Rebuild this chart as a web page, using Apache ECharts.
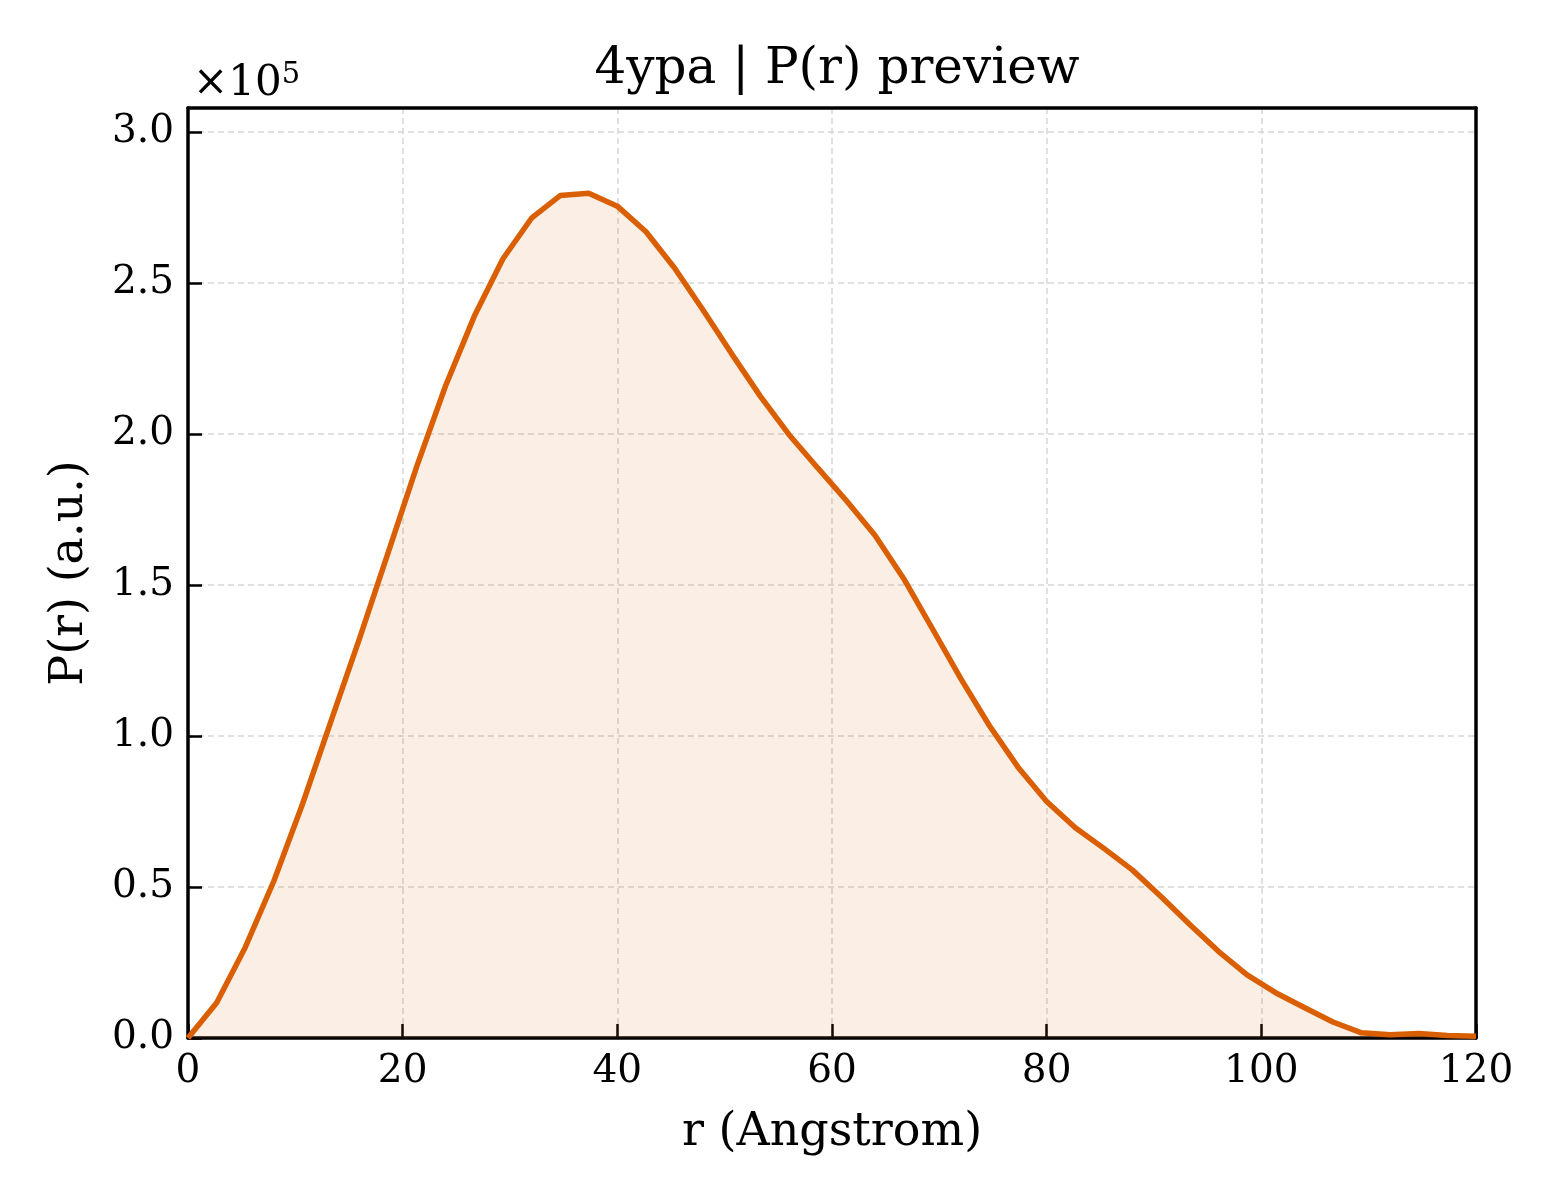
<!DOCTYPE html>
<html>
<head>
<meta charset="utf-8">
<title>4ypa | P(r) preview</title>
<script src="https://cdn.jsdelivr.net/npm/echarts@6/dist/echarts.min.js"></script>
<style>
  html, body { margin: 0; padding: 0; background: #fff; }
  #chart { width: 1560px; height: 1200px; }
</style>
</head>
<body>
<div id="chart"></div>
<script>
// 距离 r (Angstrom)
const rValues = [
  0.00, 2.67, 5.33, 8.00, 10.67, 13.33, 16.00, 18.67, 21.33, 24.00,
  26.67, 29.33, 32.00, 34.67, 37.33, 40.00, 42.67, 45.33, 48.00, 50.67,
  53.33, 56.00, 58.67, 61.33, 64.00, 66.67, 69.33, 72.00, 74.67, 77.33,
  80.00, 82.67, 85.33, 88.00, 90.67, 93.33, 96.00, 98.67, 101.33, 104.00,
  106.67, 109.33, 112.00, 114.67, 117.33, 120.00
];

// P(r) (a.u.)
const prValues = [
  0, 11700, 30000, 52000, 77500, 105000, 132500, 161000, 189500, 216000,
  239000, 258000, 271500, 279000, 279800, 275500, 267000, 255000, 241000, 226500,
  212500, 199800, 188800, 178000, 166500, 152200, 135700, 119000, 103400, 89700,
  78300, 69600, 62800, 55600, 46800, 37600, 28700, 20900, 15000, 10100,
  5300, 1700, 1100, 1500, 800, 600
];

const xTicks = { min: 0, max: 120, interval: 20 };
const yTicks = { min: 0, max: 308000, interval: 50000 };

const FONT = 'DejaVu Serif';
const lineColor = '#d95f02';

const chart = echarts.init(document.getElementById('chart'), null, { renderer: 'canvas' });

const frameLine = { show: true, onZero: false, lineStyle: { color: '#000', width: 3.5 } };
const axisCommon = {
  axisLine: frameLine,
  axisTick: { show: true, inside: true, length: 14, lineStyle: { color: '#000', width: 2.5 } },
  splitLine: { show: true, lineStyle: { color: '#d6d6d6', width: 1.5, type: [6, 4] } },
  nameTextStyle: { fontFamily: FONT, fontSize: 46, color: '#000' }
};
// 上、右两侧只画边框线
const frameOnly = {
  axisLine: frameLine,
  axisTick: { show: false }, axisLabel: { show: false }, splitLine: { show: false }
};

chart.setOption({
  backgroundColor: '#fff',
  animation: false,
  title: [
    {
      text: '4ypa | P(r) preview',
      left: 832, top: 40, textAlign: 'center',
      textStyle: { fontFamily: FONT, fontSize: 50, fontWeight: 'normal', color: '#000' }
    },
    {
      text: '×10{sup|5}',
      left: 188, top: 56,
      textStyle: {
        fontFamily: FONT, fontSize: 42, fontWeight: 'normal', color: '#000',
        rich: { sup: { fontFamily: FONT, fontSize: 29, color: '#000', verticalAlign: 'top', padding: [0, 0, 18, 0] } }
      }
    }
  ],
  grid: { left: 188, right: 84, top: 108, bottom: 162 },
  xAxis: [
    Object.assign({}, axisCommon, {
      type: 'value', position: 'bottom',
      min: xTicks.min, max: xTicks.max, interval: xTicks.interval,
      name: 'r (Angstrom)', nameLocation: 'middle', nameGap: 72,
      axisLabel: { fontFamily: FONT, fontSize: 39, color: '#000', margin: 14 }
    }),
    Object.assign({}, frameOnly, {
      type: 'value', position: 'top', min: xTicks.min, max: xTicks.max
    })
  ],
  yAxis: [
    Object.assign({}, axisCommon, {
      type: 'value', position: 'left',
      min: yTicks.min, max: yTicks.max, interval: yTicks.interval,
      name: 'P(r) (a.u.)', nameLocation: 'middle', nameGap: 95,
      axisLabel: {
        fontFamily: FONT, fontSize: 39, color: '#000', margin: 14,
        showMaxLabel: false,
        formatter: v => (v % yTicks.interval === 0 ? (v / 1e5).toFixed(1) : '')
      }
    }),
    Object.assign({}, frameOnly, {
      type: 'value', position: 'right', min: yTicks.min, max: yTicks.max
    })
  ],
  series: [{
    type: 'line',
    xAxisIndex: 0, yAxisIndex: 0,
    data: rValues.map((r, i) => [r, prValues[i]]),
    symbol: 'none',
    smooth: false,
    lineStyle: { color: lineColor, width: 5.5 },
    areaStyle: { color: 'rgba(217, 95, 2, 0.15)' },
    z: 3
  }]
});
</script>
</body>
</html>
